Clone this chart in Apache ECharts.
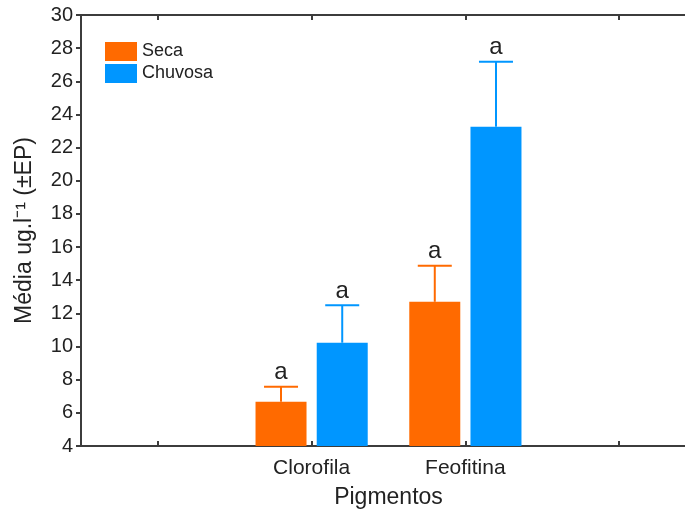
<!DOCTYPE html>
<html>
<head>
<meta charset="utf-8">
<script src="https://cdn.jsdelivr.net/npm/echarts@6/dist/echarts.min.js"></script>
<style>
  html, body { margin: 0; padding: 0; background: #fff; }
  #chart { width: 685px; height: 516px; }
</style>
</head>
<body>
<div id="chart"></div>
<script>
// categorias (as duas vazias só dão espaço nas pontas)
var categories = ['', 'Clorofila', 'Feofitina', ''];
var seca = ['-', 6.67, 12.70, '-'];
var secaErr = [0, 0.91, 2.17, 0];
var chuvosa = ['-', 10.23, 23.26, '-'];
var chuvosaErr = [0, 2.26, 3.92, 0];
var letters = ['', 'a', 'a', ''];

var FONT = '"Liberation Sans", Arial, sans-serif';
var ORANGE = '#ff6a00';
var BLUE = '#0096ff';
var AXIS = '#3c3c3c';
var BAR_W = 51;
var OFFSET = 30.6; // meia distancia entre as barras do grupo

// barra de erro + letra
function errorSeries(name, values, errs, color, side) {
  return {
    name: name + ' EP',
    type: 'custom',
    silent: true,
    z: 5,
    data: values.map(function (v, i) { return v === '-' ? null : [i, v, v + errs[i]]; }).filter(Boolean),
    renderItem: function (params, api) {
      var top = api.coord([api.value(0), api.value(2)]);
      var base = api.coord([api.value(0), api.value(1)]);
      var x = top[0] + side * OFFSET;
      var cap = 17;
      return {
        type: 'group',
        children: [
          { type: 'line', shape: { x1: x, y1: base[1], x2: x, y2: top[1] }, style: { stroke: color, lineWidth: 2 } },
          { type: 'line', shape: { x1: x - cap, y1: top[1], x2: x + cap, y2: top[1] }, style: { stroke: color, lineWidth: 2 } },
          { type: 'text', x: x, y: top[1] - 2, style: { text: letters[api.value(0)], fill: '#222', font: '24px ' + FONT, align: 'center', verticalAlign: 'bottom' } }
        ]
      };
    }
  };
}

var tick = { show: true, inside: true, interval: 0, alignWithLabel: true, length: 5, lineStyle: { color: AXIS, width: 2 } };

var chart = echarts.init(document.getElementById('chart'));
chart.setOption({
  animation: false,
  backgroundColor: '#fff',
  textStyle: { fontFamily: FONT },
  legend: {
    data: ['Seca', 'Chuvosa'],
    orient: 'vertical',
    left: 100,
    top: 37,
    itemWidth: 32,
    itemHeight: 19,
    itemGap: 3,
    icon: 'rect',
    textStyle: { fontSize: 18, lineHeight: 19, color: '#222', fontFamily: FONT }
  },
  grid: { left: 81, width: 615, top: 15, bottom: 70, outerBoundsMode: 'none', containLabel: false },
  xAxis: [
    {
      type: 'category',
      data: categories,
      position: 'bottom',
      name: 'Pigmentos',
      nameLocation: 'middle',
      nameGap: 40,
      nameTextStyle: { fontSize: 23, color: '#222', fontFamily: FONT },
      axisLine: { lineStyle: { color: AXIS, width: 2 } },
      axisTick: tick,
      axisLabel: { fontSize: 21, color: '#222', margin: 12, interval: 0, fontFamily: FONT }
    },
    {
      type: 'category',
      data: categories,
      position: 'top',
      axisLine: { lineStyle: { color: AXIS, width: 2 } },
      axisTick: tick,
      axisLabel: { show: false }
    }
  ],
  yAxis: {
    type: 'value',
    min: 4,
    max: 30,
    interval: 2,
    name: 'Média ug.l⁻¹ (±EP)',
    nameLocation: 'middle',
    nameGap: 45,
    nameTextStyle: { fontSize: 23, color: '#222', fontFamily: FONT },
    axisLine: { show: true, lineStyle: { color: AXIS, width: 2 } },
    axisTick: { show: true, length: 5, lineStyle: { color: AXIS, width: 2 } },
    axisLabel: { fontSize: 20, color: '#222', margin: 8, fontFamily: FONT },
    splitLine: { show: false }
  },
  series: [
    {
      name: 'Seca', type: 'bar', data: seca, barWidth: BAR_W, barGap: '20%',
      itemStyle: { color: ORANGE }
    },
    {
      name: 'Chuvosa', type: 'bar', data: chuvosa, barWidth: BAR_W, barGap: '20%',
      itemStyle: { color: BLUE }
    },
    errorSeries('Seca', seca, secaErr, ORANGE, -1),
    errorSeries('Chuvosa', chuvosa, chuvosaErr, BLUE, 1)
  ]
});
</script>
</body>
</html>
